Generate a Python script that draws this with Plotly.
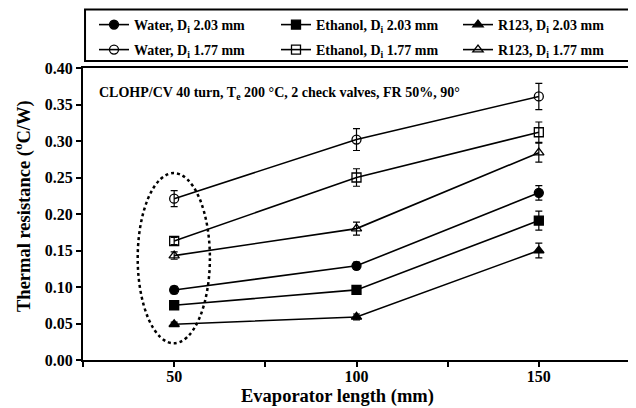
import plotly.graph_objects as go

# ---- data ----
evap_length = [50, 100, 150]

water_203 = [0.096, 0.129, 0.229]
water_203_err = [0.005, 0.005, 0.010]
ethanol_203 = [0.075, 0.096, 0.191]
ethanol_203_err = [0.003, 0.005, 0.013]
r123_203 = [0.049, 0.059, 0.150]
r123_203_err = [0.003, 0.004, 0.010]

water_177 = [0.221, 0.302, 0.361]
water_177_err = [0.011, 0.015, 0.018]
ethanol_177 = [0.163, 0.250, 0.312]
ethanol_177_err = [0.005, 0.012, 0.014]
r123_177 = [0.143, 0.180, 0.284]
r123_177_err = [0.005, 0.009, 0.013]

names_203 = ["Water, D<sub>i</sub> 2.03 mm", "Ethanol, D<sub>i</sub> 2.03 mm", "R123, D<sub>i</sub> 2.03 mm"]
names_177 = ["Water, D<sub>i</sub> 1.77 mm", "Ethanol, D<sub>i</sub> 1.77 mm", "R123, D<sub>i</sub> 1.77 mm"]

x_ticks = [50, 100, 150]
y_range = [0, 0.40]
x_range = [25, 175]

FONT = "Liberation Serif"

fig = go.Figure()

series = [
    (names_203[0], water_203, water_203_err, "circle", "legend"),
    (names_203[1], ethanol_203, ethanol_203_err, "square", "legend"),
    (names_203[2], r123_203, r123_203_err, "triangle-up", "legend"),
    (names_177[0], water_177, water_177_err, "circle-open", "legend2"),
    (names_177[1], ethanol_177, ethanol_177_err, "square-open", "legend2"),
    (names_177[2], r123_177, r123_177_err, "triangle-up-open", "legend2"),
]

for name, vals, errs, sym, leg in series:
    fig.add_trace(go.Scatter(
        x=evap_length, y=vals, name=name, mode="lines+markers",
        line=dict(color="black", width=1.6),
        marker=dict(symbol=sym, size=9, color="black", line=dict(color="black", width=1.3)),
        error_y=dict(type="data", array=errs, visible=True, color="black", thickness=1.2, width=3.5),
        legend=leg,
    ))

# dotted ellipse around the 50 mm points
fig.add_shape(type="circle", xref="x", yref="y", x0=40, x1=59.8, y0=0.023, y1=0.256,
              line=dict(color="black", width=2.5, dash="dot"))

# legend frame
fig.add_shape(type="rect", xref="paper", yref="paper",
              x0=0.0037, x1=1.0, y0=1.024, y1=1.2, 
              line=dict(color="black", width=2))

fig.add_annotation(
    text="CLOHP/CV 40 turn, T<sub>e</sub> 200 °C, 2 check valves, FR 50%, 90°",
    xref="paper", yref="paper", x=0.0256, y=0.914, xanchor="left", yanchor="middle",
    showarrow=False, font=dict(family=FONT, size=14, color="black", weight="bold"))

fig.add_annotation(
    text="Evaporator length (mm)", xref="paper", yref="paper",
    x=(337 - 83) / 547, y=(360 - 396) / 292, xanchor="center", yanchor="middle",
    showarrow=False, font=dict(family=FONT, size=18.5, color="black", weight="bold"))

fig.add_annotation(
    text="Thermal resistance (<sup>o</sup>C/W)", xref="paper", yref="paper",
    x=(22 - 83) / 547, y=(360 - 206) / 292, xanchor="center", yanchor="middle",
    textangle=-90, showarrow=False,
    font=dict(family=FONT, size=18.5, color="black", weight="bold"))

leg_common = dict(orientation="h", xanchor="left", yanchor="middle",
                  entrywidth=137, entrywidthmode="pixels",
                  bgcolor="rgba(0,0,0,0)", borderwidth=0,
                  font=dict(family=FONT, size=14, color="black", weight="bold"))

# page body adds an 8px margin, so the figure is 8px smaller than the window
fig.update_layout(
    width=628, height=400,
    margin=dict(l=75, r=6, t=60, b=48, autoexpand=False),
    paper_bgcolor="white", plot_bgcolor="white",
    font=dict(family=FONT, color="black"),
    legend=dict(x=(94 - 83) / 547, y=(360 - 25) / 292, **leg_common),
    legend2=dict(x=(94 - 83) / 547, y=(360 - 50) / 292, **leg_common),
    xaxis=dict(range=x_range, tickvals=x_ticks, ticks="outside", ticklen=5, tickwidth=2,
               tickcolor="black", showline=True, linewidth=2, linecolor="black", mirror=True,
               showgrid=False, zeroline=False, ticklabelstandoff=-4,
               minor=dict(dtick=25, tick0=0, ticks="outside", ticklen=5, tickwidth=2, tickcolor="black"),
               tickfont=dict(family=FONT, size=16, color="black", weight="bold")),
    yaxis=dict(range=y_range, dtick=0.05, tickformat=".2f", ticks="outside", ticklen=5, tickwidth=2,
               tickcolor="black", showline=True, linewidth=2, linecolor="black", mirror=True,
               showgrid=False, zeroline=False,
               tickfont=dict(family=FONT, size=16, color="black", weight="bold")),
)

fig.write_html("out.html")
